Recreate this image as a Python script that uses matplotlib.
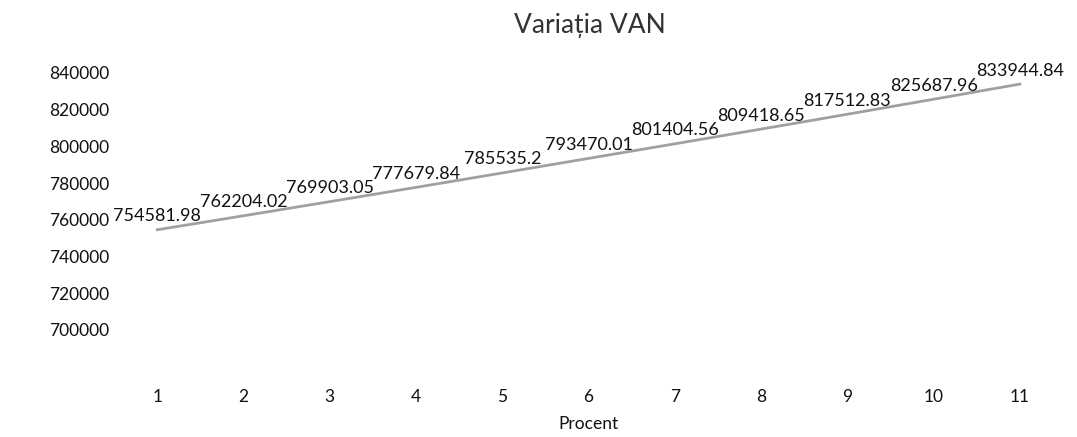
import numpy as np
import matplotlib
matplotlib.use("Agg")
import matplotlib.pyplot as plt

# date
procent = [1, 2, 3, 4, 5, 6, 7, 8, 9, 10, 11]
van = [754581.98, 762204.02, 769903.05, 777679.84, 785535.2, 793470.01,
       801404.56, 809418.65, 817512.83, 825687.96, 833944.84]
y_ticks = [700000, 720000, 740000, 760000, 780000, 800000, 820000, 840000]

plt.rcParams['font.family'] = ['Lato', 'DejaVu Sans']

fig = plt.figure(figsize=(10.77, 4.37), dpi=100)
ax = fig.add_axes([0.106, 0.161, 0.881, 0.672])

ax.plot(procent, van, '-', color='#a0a0a0', linewidth=2)

for x, y in zip(procent, van):
    txt = f'{y:.2f}'.rstrip('0').rstrip('.')
    ax.annotate(txt, (x, y), xytext=(0, 4), textcoords='offset points',
                ha='center', va='bottom', fontsize=13, color='#111111')

ax.set_xlim(0.5, 11.5)
ax.set_ylim(680000, 840000)
ax.set_xticks(procent)
ax.set_yticks(y_ticks)
ax.set_yticklabels([str(t) for t in y_ticks])
ax.tick_params(length=0, labelsize=12.5, colors='#111111')
ax.tick_params(axis='x', pad=16)
for s in ax.spines.values():
    s.set_visible(False)

ax.set_xlabel('Procent', fontsize=12.5, color='#111111', labelpad=8)
fig.suptitle('Variația VAN', fontsize=19, color='#333333', x=0.548, y=0.97)

fig.savefig('out.png', dpi=100)
